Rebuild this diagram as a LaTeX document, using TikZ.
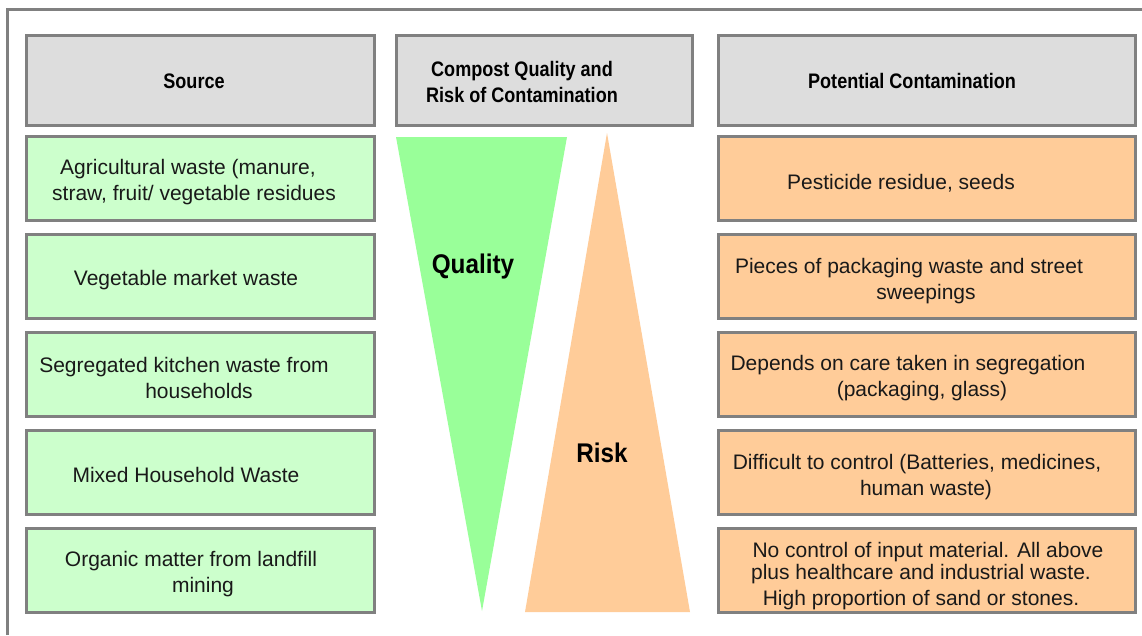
\documentclass[tikz,border=0pt]{standalone}
\usepackage{fontspec}
\setmainfont{Liberation Sans}
\newfontfamily\hdfont[FakeStretch=0.86]{Liberation Sans}
\newfontfamily\bigfont[FakeStretch=0.9]{Liberation Sans}
\definecolor{framecol}{HTML}{808080}
\definecolor{hdrgray}{HTML}{DDDDDD}
\definecolor{srcgreen}{HTML}{CCFFCC}
\definecolor{conorange}{HTML}{FFCC99}
\definecolor{trigreen}{HTML}{99FF99}
\definecolor{triorange}{HTML}{FFCC99}
\begin{document}
\begin{tikzpicture}[x=1pt,y=-1pt,
  box/.style={rectangle, draw=framecol, line width=3pt, inner sep=0pt, outer sep=0pt},
  hdr/.style={box, fill=hdrgray, minimum height=90pt},
  srcbox/.style={box, fill=srcgreen, minimum width=348pt, minimum height=84pt},
  conbox/.style={box, fill=conorange, minimum width=417pt, minimum height=84pt},
  txt/.style={font=\fontsize{21}{26}\selectfont, align=center, inner sep=0pt, text=black!90},
  hdtxt/.style={font=\hdfont\bfseries\fontsize{21}{26}\selectfont, align=center, inner sep=0pt},
  bigtxt/.style={font=\bigfont\bfseries\fontsize{27}{32}\selectfont, inner sep=0pt}]
\useasboundingbox (0,0) rectangle (1142,635);
\fill[white] (0,0) rectangle (1142,635);
% outer frame
\draw[framecol, line width=3pt] (7,635) -- (7,9) -- (1142,9);
% headers
\node[hdr, minimum width=348pt] (h1) at (200.5,80) {};
\node[hdr, minimum width=296pt] (h2) at (544.5,80) {};
\node[hdr, minimum width=417pt] (h3) at (927,80) {};
\node[hdtxt] (h1t) at (194,81) {Source};
\node[hdtxt] (h2t) at (522,82) {Compost Quality and\\Risk of Contamination};
\node[hdtxt] (h3t) at (912,81) {Potential Contamination};
% source boxes
\node[srcbox] (s1) at (200.5,178) {};
\node[srcbox] (s2) at (200.5,276) {};
\node[srcbox] (s3) at (200.5,374) {};
\node[srcbox] (s4) at (200.5,472) {};
\node[srcbox] (s5) at (200.5,570) {};
\node[txt] (s1t) at (194,182) {Agricultural waste (manure,\hspace*{12pt}\\straw, fruit/ vegetable residues};
\node[txt] (s2t) at (186,280) {Vegetable market waste};
\node[txt] (s3t) at (199,378) {Segregated kitchen waste from\hspace*{30pt}\\households};
\node[txt] (s4t) at (186,475) {Mixed Household Waste};
\node[txt] (s5t) at (203,574) {Organic matter from landfill\hspace*{24pt}\\mining};
% contamination boxes
\node[conbox] (c1) at (927,178) {};
\node[conbox] (c2) at (927,276) {};
\node[conbox] (c3) at (927,374) {};
\node[conbox] (c4) at (927,472) {};
\node[conbox] (c5) at (927,570) {};
\node[txt] (c1t) at (901,183) {Pesticide residue, seeds};
\node[txt] (c2t) at (926,281) {Pieces of packaging waste and street\hspace*{34pt}\\sweepings};
\node[txt] (c3t) at (922,378) {Depends on care taken in segregation\hspace*{28pt}\\(packaging, glass)};
\node[txt] (c4t) at (926,477) {Difficult to control (Batteries, medicines,\hspace*{18pt}\\human waste)};
\node[txt] (c5t) at (921,576) {\hspace*{14pt}No control of input material. All above\\[-4pt]plus healthcare and industrial waste.\\High proportion of sand or stones.};
% triangles
\fill[trigreen] (396,137) -- (567,137) -- (482,611) -- cycle;
\fill[triorange] (607,133) -- (690,612) -- (525,612) -- cycle;
\node[bigtxt] (q) at (473,267) {Quality};
\node[bigtxt] (r) at (602,453) {Risk};
\end{tikzpicture}
\end{document}
